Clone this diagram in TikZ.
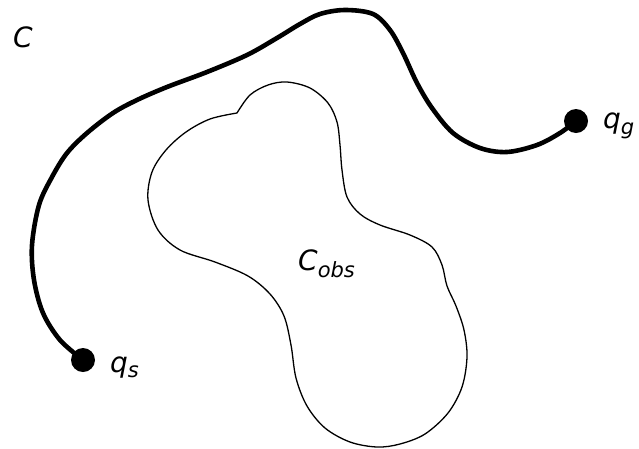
\documentclass[tikz,border=0pt]{standalone}
\usepackage{fontspec}
\setmainfont{DejaVu Sans}
\newcommand{\subsz}{\fontsize{21}{24}\selectfont}
\begin{document}
\begin{tikzpicture}[x=1pt,y=-1pt,
  lbl/.style={inner sep=0pt,font=\fontsize{28}{32}\selectfont\itshape},
  dot/.style={circle,fill=black,inner sep=0pt,minimum size=24pt},
  route/.style={line width=4.6pt,line cap=round},
  obst/.style={line width=1.3pt,line join=round}]
\useasboundingbox (0,0) rectangle (639,448);
% start and goal
\node[dot] (qs) at (83,360) {};
\node[dot] (qg) at (576,121) {};
% labels
\node[lbl,anchor=base west] (clbl) at (13,47) {C};
\node[lbl,anchor=base west] (qslbl) at (110,372) {q\raisebox{-5pt}{\subsz s}};
\node[lbl,anchor=base west] (qglbl) at (603,128) {q\raisebox{-6pt}{\subsz g}};
\node[lbl,anchor=base west] (cobs) at (298,270) {C\raisebox{-7pt}{\subsz obs}};
% path
\draw[route] plot[smooth,tension=0.55] coordinates {
 (qs.center) (60,340) (43,313) (34,280) (32,245) (39,205) (52,177) (67,153)
 (87,133) (113,113) (137,100) (167,87) (207,72) (247,55) (277,38) (300,24)
 (320,14) (345,10) (373,14) (390,30) (403,53) (417,83) (432,108) (453,133)
 (480,148) (507,152) (537,145) (560,133) (qg.center)};
% obstacle
\draw[obst] plot[smooth,tension=0.55] coordinates {
 (237,113) (250,95) (268,85) (287,82) (310,88) (328,103) (337,122)
 (340,145) (342,170) (347,197) (360,214) (380,225) (410,235) (432,247)
 (442,265) (447,286) (456,306) (464,330) (467,357) (462,387) (448,413)
 (425,434) (400,444) (377,447) (350,442) (325,428) (307,406) (296,378)
 (291,345) (284,316) (270,294) (248,276) (215,262) (180,250) (158,230)
 (148,200) (152,172) (166,150) (186,132) (210,119) (237,113)};
\end{tikzpicture}
\end{document}
